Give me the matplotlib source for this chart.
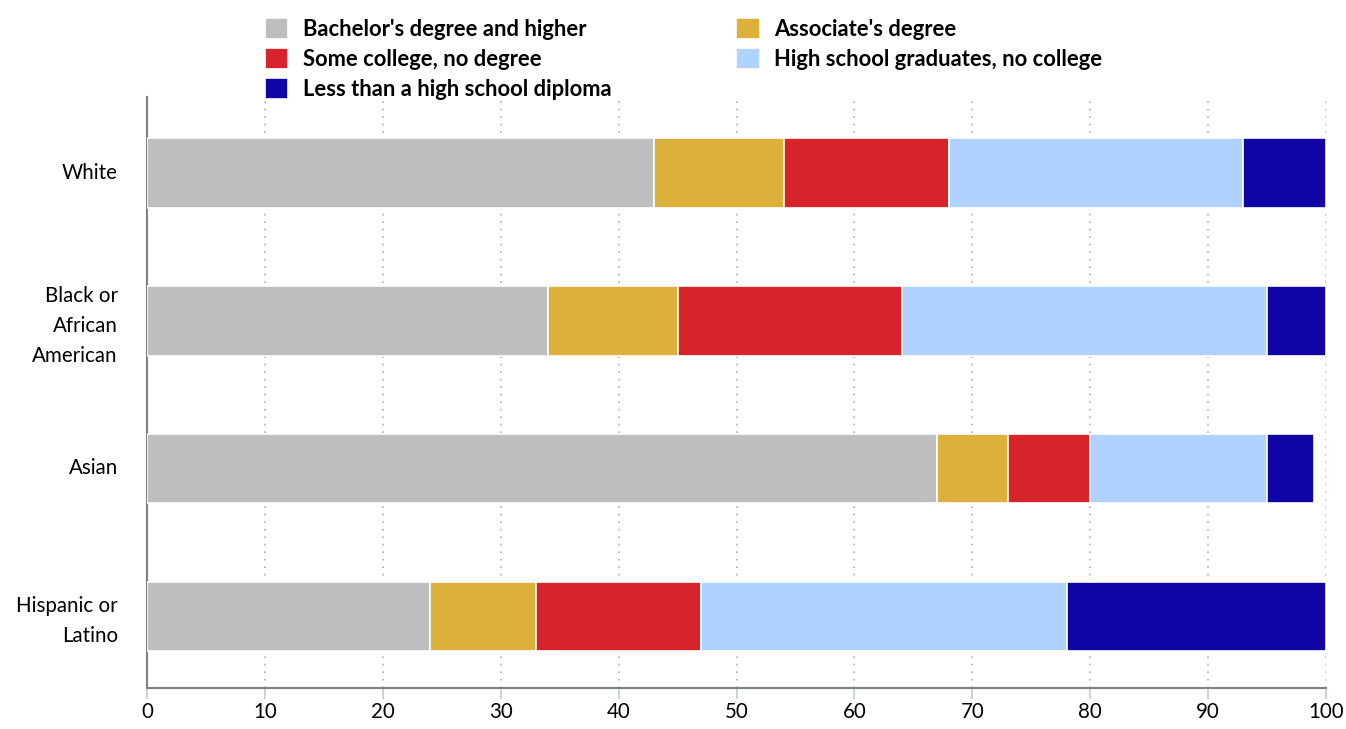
import numpy as np
import matplotlib
matplotlib.use("Agg")
import matplotlib.pyplot as plt

plt.rcParams["font.family"] = ["Lato", "DejaVu Sans"]

groups = ["White", "Black or\nAfrican\nAmerican", "Asian", "Hispanic or\nLatino"]
series = ["Bachelor's degree and higher", "Associate's degree",
          "Some college, no degree", "High school graduates, no college",
          "Less than a high school diploma"]
bachelor = [43, 34, 67, 24]
associate = [11, 11, 6, 9]
some_college = [14, 19, 7, 14]
high_school = [25, 31, 15, 31]
less_than_hs = [7, 5, 4, 22]
colors = ["#bebebe", "#ddb03b", "#d7242b", "#b0d2fe", "#1006a6"]

values = [bachelor, associate, some_college, high_school, less_than_hs]

fig = plt.figure(figsize=(13.46, 7.29), dpi=100)
ax = fig.add_axes([147 / 1346, 1 - 688 / 729, (1326 - 147) / 1346, (688 - 97) / 729])

y = np.arange(len(groups))
left = np.zeros(len(groups))
handles = {}
for name, vals, col in zip(series, values, colors):
    b = ax.barh(y + 0.015, vals, left=left, height=0.47, color=col,
                edgecolor="white", linewidth=1.2, label=name, zorder=3)
    handles[name] = b
    left += np.array(vals)

ax.set_ylim(3.5, -0.5)
ax.set_xlim(0, 100)
ax.set_xticks(np.arange(0, 101, 10))
ax.set_yticks(y)
ax.set_yticklabels(groups, fontsize=14.8, linespacing=1.62, ha="right",
                   multialignment="right")
ax.tick_params(axis="y", length=0, pad=21)
ax.tick_params(axis="x", length=8, color="#b8cce4", width=1.2, labelsize=14.8, pad=2)
ax.grid(axis="x", linestyle=(0, (1, 3.5)), color="#b0b0b0", linewidth=1.2, zorder=0)
for s in ("top", "right"):
    ax.spines[s].set_visible(False)
for s in ("left", "bottom"):
    ax.spines[s].set_color("#808080")
    ax.spines[s].set_linewidth(1.5)

order = [series[0], series[2], series[4], series[1], series[3]]
leg = fig.legend([handles[n] for n in order], order, ncol=2,
                 loc="upper left", bbox_to_anchor=(265 / 1346, 1 - 18.5 / 729),
                 frameon=False, prop={"weight": "bold", "size": 15.8},
                 handlelength=1.07, handleheight=1.07, handletextpad=0.64,
                 columnspacing=5.7, labelspacing=0.37,
                 borderpad=0, borderaxespad=0)

fig.savefig("out.png", dpi=100)
